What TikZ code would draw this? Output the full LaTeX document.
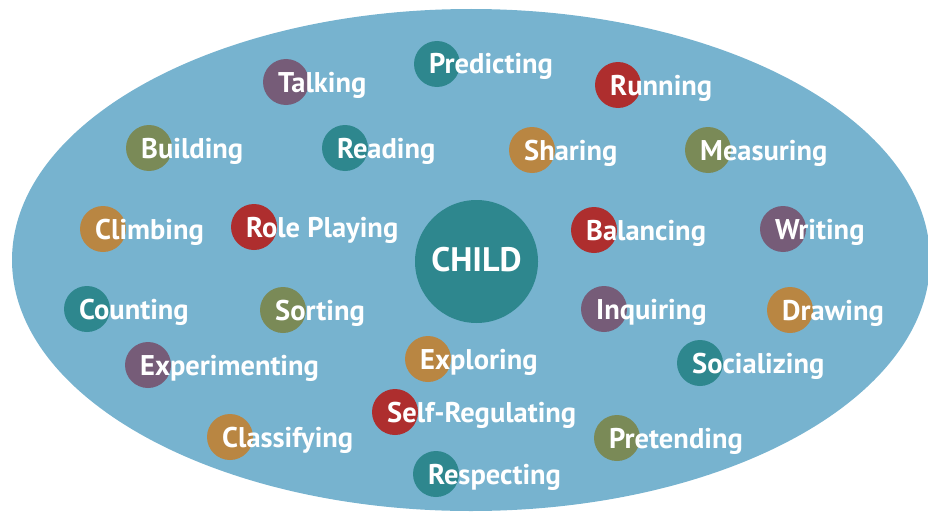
\documentclass[tikz,border=0pt]{standalone}
\usepackage{fontspec}
\setsansfont{PT Sans}
\definecolor{sky}{HTML}{77B3CF}
\definecolor{teal}{HTML}{2E878E}
\definecolor{plum}{HTML}{765C78}
\definecolor{brick}{HTML}{AE2E2E}
\definecolor{olive}{HTML}{7A8A57}
\definecolor{ochre}{HTML}{B98642}
\tikzset{
  dot/.style={circle, fill=#1, minimum size=46pt, inner sep=0pt},
  word/.style={anchor=base west, text=white, inner sep=0pt,
    font=\sffamily\bfseries\fontsize{28.5}{30}\selectfont},
}

\begin{document}
\begin{tikzpicture}[x=1pt, y=-1pt]
  \useasboundingbox (0,0) rectangle (928,511);
  \clip (0,0) rectangle (928,511);
  \fill[sky] (471,260) ellipse [x radius=459, y radius=251];
  \foreach \px/\py/\c/\t/\n in {
      286/82/plum/Talking/talking, 437/64/teal/Predicting/predicting,
      618/85/brick/Running/running, 149/148/olive/Building/building,
      345/148/teal/Reading/reading, 532/150/ochre/Sharing/sharing,
      708/150/olive/Measuring/measuring, 103/229/ochre/Climbing/climbing,
      254/227/brick/Role Playing/role, 594/230/brick/Balancing/balancing,
      783/229/plum/Writing/writing, 87/309/teal/Counting/counting,
      283/310/olive/Sorting/sorting, 604/309/plum/Inquiring/inquiring,
      790/310/ochre/Drawing/drawing, 148/365/plum/Experimenting/experimenting,
      428/359/ochre/Exploring/exploring, 700/363/teal/Socializing/socializing,
      395/412/brick/Self-Regulating/selfreg, 230/437/ochre/Classifying/classifying,
      617/438/olive/Pretending/pretending, 436/474/teal/Respecting/respecting} {
    \node[dot=\c] (\n) at (\px,\py) {};
    \node[word] (\n-txt) at ([shift={(-8,10)}]\n.center) {\t};
  }
  % centre
  \node[dot=teal, minimum size=123pt] (child) at (476.5,261.5) {};
  \node[text=white, font=\sffamily\bfseries\fontsize{34}{36}\selectfont]
    (child-txt) at ([yshift=1.5pt]child.center) {CHILD};
\end{tikzpicture}
\end{document}
